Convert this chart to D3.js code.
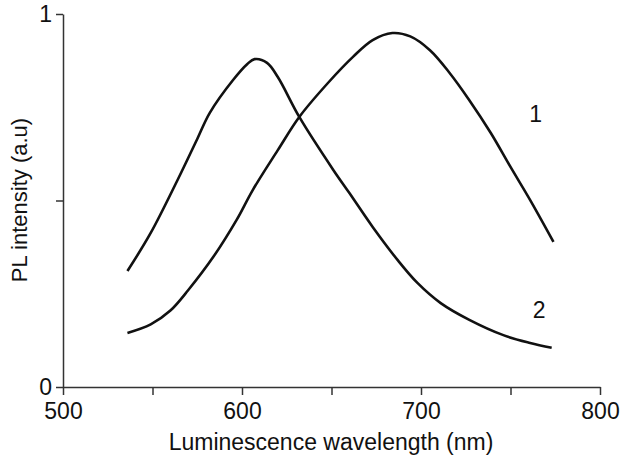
<!doctype html>
<html lang="en">
<head>
    <meta charset="UTF-8">
    <title>PL spectra</title>
    <script src="https://cdnjs.cloudflare.com/ajax/libs/d3/7.8.5/d3.min.js"></script>
    <style>
        body { margin: 0; background: #fff; }
        text { font-family: "Liberation Sans", Arial, Helvetica, sans-serif; fill: #111; }
        .axis path, .axis line { stroke: #333; stroke-width: 1.5; }
        .axis text { font-size: 23px; fill: #111; }
    </style>
</head>
<body>
<svg id="chart" width="622" height="456"></svg>
<script>

    // wavelength (nm) / intensity
    var wl1 = [536, 549, 560, 570, 584, 597, 606, 620, 632, 648, 662, 673, 684, 694, 705, 716, 727, 739, 750, 761, 774];
    var pl1 = [0.145, 0.168, 0.205, 0.260, 0.349, 0.448, 0.528, 0.635, 0.724, 0.815, 0.885, 0.930, 0.949, 0.940, 0.903, 0.842, 0.769, 0.681, 0.590, 0.501, 0.389];

    var wl2 = [536, 549, 564, 575, 582, 595, 603, 607, 614, 620, 632, 651, 660, 673, 687, 698, 711, 727, 746, 761, 773];
    var pl2 = [0.311, 0.413, 0.555, 0.665, 0.735, 0.823, 0.866, 0.879, 0.869, 0.831, 0.724, 0.582, 0.520, 0.429, 0.340, 0.279, 0.225, 0.180, 0.139, 0.118, 0.105];

    var curveNames = ['1', '2'];
    var labelWl = [764, 766];
    var labelPl = [0.71, 0.185];

    var xTicks = [500, 550, 600, 650, 700, 750, 800];
    var yTicks = [0, 0.5, 1];

    var svg = d3.select('#chart');

    var x = d3.scaleLinear().domain([500, 800]).range([63, 600]);
    var y = d3.scaleLinear().domain([0, 1]).range([387, 14]);

    svg.append('g')
        .attr('class', 'axis')
        .attr('transform', 'translate(0,387)')
        .call(d3.axisBottom(x)
            .tickValues(xTicks)
            .tickSize(8)
            .tickSizeOuter(0)
            .tickPadding(8)
            .tickFormat(function (d) { return d % 100 === 0 ? d : ''; }));

    svg.append('g')
        .attr('class', 'axis')
        .attr('transform', 'translate(63,0)')
        .call(d3.axisLeft(y)
            .tickValues(yTicks)
            .tickSize(7)
            .tickSizeOuter(0)
            .tickPadding(4)
            .tickFormat(function (d) { return d === 0.5 ? '' : d; }));

    svg.selectAll('.axis text').attr('font-family', null);

    var line = d3.line()
        .x(function (d) { return x(d[0]); })
        .y(function (d) { return y(d[1]); })
        .curve(d3.curveCatmullRom);

    var series = [d3.zip(wl1, pl1), d3.zip(wl2, pl2)];

    svg.selectAll('path.curve')
        .data(series)
        .enter()
        .append('path')
        .attr('class', 'curve')
        .attr('d', line)
        .attr('fill', 'none')
        .attr('stroke', '#111')
        .attr('stroke-width', 2.6);

    svg.selectAll('text.name')
        .data(curveNames)
        .enter()
        .append('text')
        .attr('class', 'name')
        .attr('x', function (d, i) { return x(labelWl[i]); })
        .attr('y', function (d, i) { return y(labelPl[i]); })
        .attr('text-anchor', 'middle')
        .attr('font-size', 23)
        .text(function (d) { return d; });

    svg.append('text')
        .attr('x', 331)
        .attr('y', 450)
        .attr('text-anchor', 'middle')
        .attr('font-size', 23)
        .text('Luminescence wavelength (nm)');

    svg.append('text')
        .attr('transform', 'translate(27,200) rotate(-90)')
        .attr('text-anchor', 'middle')
        .attr('font-size', 22)
        .text('PL intensity (a.u)');

</script>
</body>
</html>
